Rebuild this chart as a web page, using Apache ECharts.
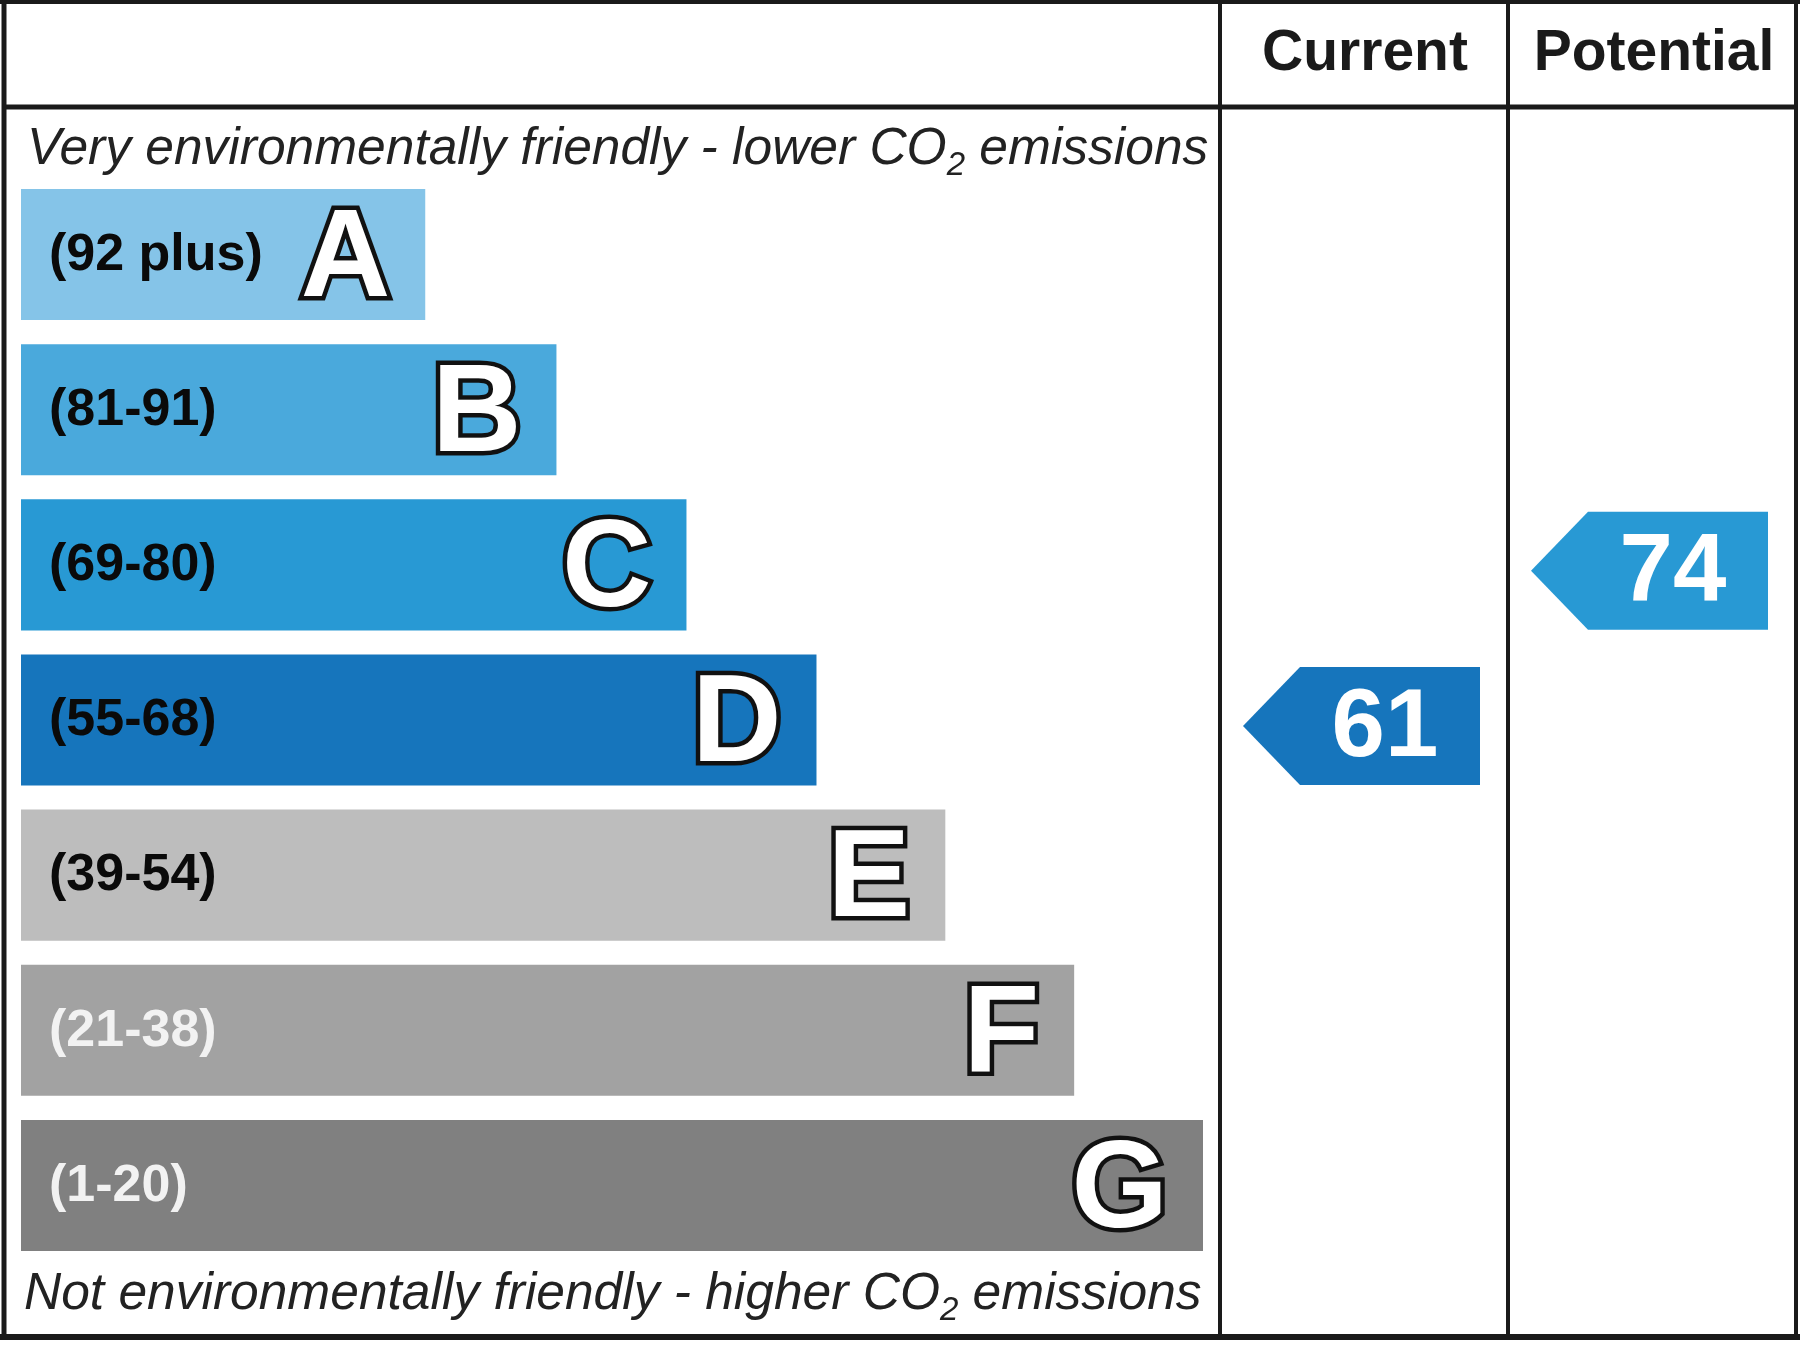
<!DOCTYPE html>
<html>
<head>
<meta charset="utf-8">
<title>Environmental Impact (CO2) Rating</title>
<script src="https://cdn.jsdelivr.net/npm/echarts@6/dist/echarts.min.js"></script>
<style>
html, body { margin: 0; padding: 0; background: #fff; }
#chart { width: 1800px; height: 1350px; }
</style>
</head>
<body>
<div id="chart"></div>
<script>
// bands, best (top) to worst (bottom)
var bandLetters = ['A', 'B', 'C', 'D', 'E', 'F', 'G'];
var bandRanges = ['(92 plus)', '(81-91)', '(69-80)', '(55-68)', '(39-54)', '(21-38)', '(1-20)'];
var bandMins = [92, 81, 69, 55, 39, 21, 1];
// bar length relative to the G bar (= 100)
var barLengths = [34.2, 45.3, 56.3, 67.3, 78.2, 89.1, 100];
var bandColors = ['#85c4e8', '#4aa9dc', '#2899d4', '#1675bc', '#bdbdbd', '#a2a2a2', '#808080'];
var rangeLabelColors = ['#0a0a0a', '#0a0a0a', '#0a0a0a', '#0a0a0a', '#0a0a0a', '#f2f2f2', '#f2f2f2'];

// rating columns
var columnTitles = ['Current', 'Potential'];
var ratings = [61, 74];

var topNote = 'Very environmentally friendly - lower CO{sub|2} emissions';
var bottomNote = 'Not environmentally friendly - higher CO{sub|2} emissions';

var FONT = '"Liberation Sans", Arial, sans-serif';
var LINE = '#1a1a1a';

// which band a rating falls in
function bandOf(rating) {
	for (var i = 0; i < bandMins.length; i++) {
		if (rating >= bandMins[i]) return i;
	}
	return bandMins.length - 1;
}

function renderBand(params, api) {
	var idx = api.value(1);
	var start = api.coord([0, idx]);
	var end = api.coord([api.value(0), idx]);
	var h = api.size([0, 1])[1] * 0.845;
	return {
		type: 'group',
		children: [{
			type: 'rect',
			shape: { x: start[0], y: start[1] - h / 2, width: end[0] - start[0], height: h },
			style: { fill: bandColors[idx] }
		}, {
			type: 'text',
			style: {
				text: bandRanges[idx], x: start[0] + 28, y: start[1] + 1,
				align: 'left', verticalAlign: 'middle',
				fill: rangeLabelColors[idx],
				fontSize: 52, fontWeight: 'bold', fontFamily: FONT
			}
		}, {
			type: 'text',
			style: {
				text: bandLetters[idx], x: end[0] - 35, y: start[1] + 7,
				align: 'right', verticalAlign: 'middle',
				fill: '#fff', stroke: '#111', lineWidth: 9, strokeFirst: true,
				fontSize: 124, fontWeight: 'bold', fontFamily: FONT
			}
		}]
	};
}

function renderArrow(params, api) {
	var cs = params.coordSys;
	var idx = api.value(1);
	var c = api.coord([0, idx]);
	var cy = c[1] + 6;
	var h = 118;
	var left = cs.x + 21, neck = left + 57, right = cs.x + cs.width - 28;
	return {
		type: 'group',
		children: [{
			type: 'polygon',
			shape: { points: [[left, cy], [neck, cy - h / 2], [right, cy - h / 2], [right, cy + h / 2], [neck, cy + h / 2]] },
			style: { fill: bandColors[idx] }
		}, {
			type: 'text',
			style: {
				text: String(api.value(2)), x: (neck + right) / 2 - 5, y: cy + 4,
				align: 'center', verticalAlign: 'middle', fill: '#fff',
				fontSize: 96, fontWeight: 'bold', fontFamily: FONT
			}
		}]
	};
}

var gridTop = 177, gridHeight = 1086;
var grids = [
	{ left: 21, top: gridTop, width: 1182, height: gridHeight },
	{ left: 1222, top: gridTop, width: 286, height: gridHeight },
	{ left: 1510, top: gridTop, width: 286, height: gridHeight }
];

var xAxes = grids.map(function (g, i) {
	return { type: 'value', gridIndex: i, min: 0, max: i === 0 ? 100 : 1, show: false };
});
var yAxes = grids.map(function (g, i) {
	return { type: 'category', gridIndex: i, data: bandLetters, inverse: true, show: false };
});

var series = [{
	type: 'custom',
	xAxisIndex: 0, yAxisIndex: 0,
	renderItem: renderBand,
	encode: { x: 0, y: 1 },
	data: barLengths.map(function (v, i) { return [v, i]; })
}];
ratings.forEach(function (r, i) {
	series.push({
		type: 'custom',
		name: columnTitles[i],
		xAxisIndex: i + 1, yAxisIndex: i + 1,
		renderItem: renderArrow,
		encode: { x: 0, y: 1 },
		data: [[0, bandOf(r), r]]
	});
});

function hline(y, x1, x2, w) {
	return { type: 'line', shape: { x1: x1, y1: y, x2: x2, y2: y }, style: { stroke: LINE, lineWidth: w }, z: 10 };
}
function vline(x, y1, y2, w) {
	return { type: 'line', shape: { x1: x, y1: y1, x2: x, y2: y2 }, style: { stroke: LINE, lineWidth: w }, z: 10 };
}
function note(text, x, y) {
	return {
		type: 'text', x: x, y: y,
		style: {
			text: text, align: 'left', verticalAlign: 'middle', fill: '#222',
			fontSize: 51.5, fontStyle: 'italic', fontFamily: FONT,
			rich: { sub: { fontSize: 33, fontStyle: 'italic', fontFamily: FONT, fill: '#222', verticalAlign: 'bottom', lineHeight: 64 } }
		}
	};
}
function header(text, x) {
	return {
		type: 'text', x: x, y: 54,
		style: { text: text, align: 'center', verticalAlign: 'middle', fill: '#1a1a1a', fontSize: 57, fontWeight: 'bold', fontFamily: FONT }
	};
}

var chart = echarts.init(document.getElementById('chart'));
chart.setOption({
	animation: false,
	backgroundColor: '#fff',
	grid: grids,
	xAxis: xAxes,
	yAxis: yAxes,
	series: series,
	graphic: [
		hline(2, 0, 1800, 4),
		hline(107, 3, 1798, 5),
		hline(1337, 0, 1800, 6),
		vline(4, 0, 1340, 5),
		vline(1220, 0, 1337, 4),
		vline(1508, 0, 1337, 4),
		vline(1796, 0, 1337, 4),
		header(columnTitles[0], 1365),
		header(columnTitles[1], 1654),
		note(topNote, 27, 150),
		note(bottomNote, 24, 1295)
	]
});
</script>
</body>
</html>
